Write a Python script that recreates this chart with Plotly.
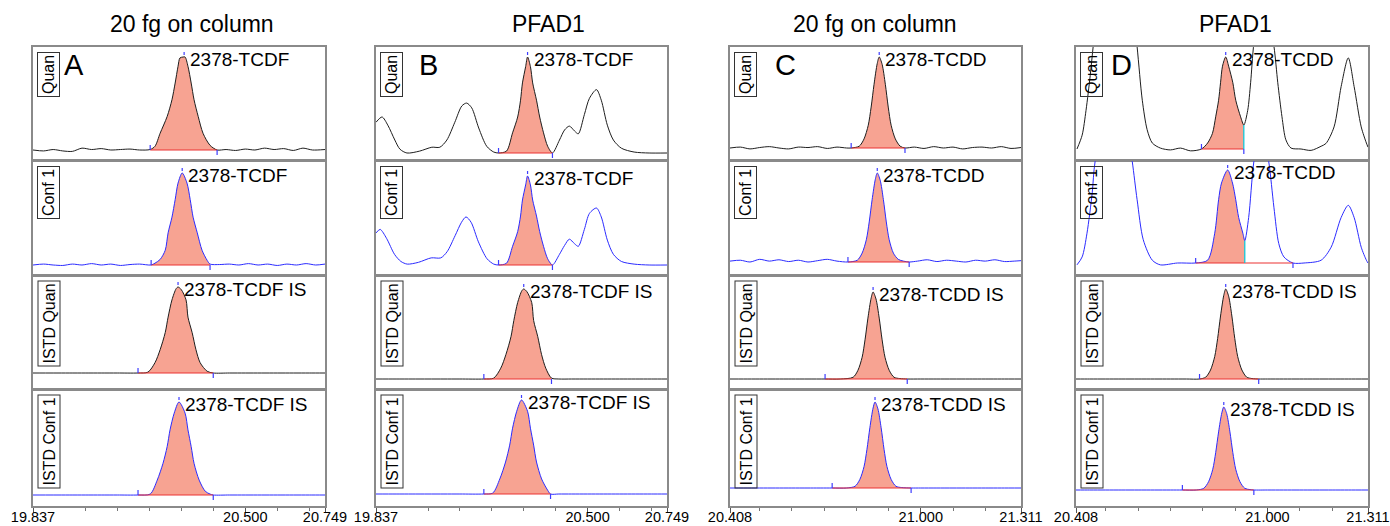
import plotly.graph_objects as go

W, H = 1390, 526
FONT = "Liberation Sans, Arial, sans-serif"

# ---------------- text ----------------
col_titles = ["20 fg on column", "PFAD1", "20 fg on column", "PFAD1"]
panel_letters = ["A", "B", "C", "D"]
row_names = ["Quan", "Conf 1", "ISTD Quan", "ISTD Conf 1"]
peak_names = [
    ["2378-TCDF", "2378-TCDF", "2378-TCDF IS", "2378-TCDF IS"],
    ["2378-TCDF", "2378-TCDF", "2378-TCDF IS", "2378-TCDF IS"],
    ["2378-TCDD", "2378-TCDD", "2378-TCDD IS", "2378-TCDD IS"],
    ["2378-TCDD", "2378-TCDD", "2378-TCDD IS", "2378-TCDD IS"],
]

# ---------------- axes ----------------
x_ranges = [[19.837, 20.749], [19.837, 20.749], [20.408, 21.311], [20.408, 21.311]]
major_ticks = [[19.837, 20.500, 20.749], [19.837, 20.500, 20.749],
               [20.408, 21.000, 21.311], [20.408, 21.000, 21.311]]
major_labels = [["19.837", "20.500", "20.749"], ["19.837", "20.500", "20.749"],
                ["20.408", "21.000", "21.311"], ["20.408", "21.000", "21.311"]]
minor_ticks_f = [20.0, 20.1, 20.2, 20.3, 20.4, 20.6, 20.7]
minor_ticks_d = [20.5, 20.6, 20.7, 20.8, 20.9, 21.1, 21.2]

# ---------------- chromatogram data (RT min, relative abundance) ----------------
# A : 20 fg TCDF
a1_x = [19.837, 19.87, 19.90, 19.93, 19.96, 19.99, 20.02, 20.05, 20.08, 20.11, 20.14, 20.17,
        20.203, 20.218, 20.234, 20.256, 20.271, 20.281, 20.290, 20.296, 20.306, 20.312, 20.321,
        20.331, 20.340, 20.353, 20.368, 20.390, 20.412, 20.44, 20.47, 20.50, 20.53, 20.56,
        20.59, 20.62, 20.65, 20.68, 20.71, 20.749]
a1_y = [0, -1, 0.5, -1, -1.5, 2, 0.5, 1.5, 0, 0.5, 1, 0,
        0.5, 4, 18, 36, 54, 72, 90, 99, 100, 100, 90,
        72, 54, 36, 18, 5, 0, 0.5, -0.5, 1, 0, 2,
        0.5, 1.5, -0.5, 2, 0, 0.5]
a2_x = [19.837, 19.87, 19.90, 19.93, 19.96, 19.99, 20.02, 20.05, 20.08, 20.11, 20.14, 20.17,
        20.206, 20.218, 20.234, 20.250, 20.259, 20.271, 20.281, 20.290, 20.303, 20.318, 20.328,
        20.337, 20.350, 20.365, 20.381, 20.390, 20.42, 20.45, 20.48, 20.51, 20.54, 20.57,
        20.60, 20.63, 20.66, 20.69, 20.72, 20.749]
a2_y = [0, 1, 0, -0.5, 1, 0, 1.5, 0, 1, -0.5, 0.5, 1,
        0, 2, 6, 16, 35, 52, 71, 89, 100, 89, 71,
        52, 35, 16, 5, 1, 0.5, 1, 0, 1.5, 0, 1,
        -0.5, 1, 0, 1.5, 0, 1]
a3_x = [19.837, 19.90, 19.95, 20.00, 20.05, 20.10, 20.165, 20.196, 20.218, 20.234, 20.250,
        20.259, 20.271, 20.284, 20.290, 20.300, 20.315, 20.321, 20.334, 20.346, 20.359, 20.381,
        20.400, 20.45, 20.50, 20.55, 20.60, 20.65, 20.70, 20.749]
a3_y = [0, 0, 0, 0, 0, 0, 0, 1, 12, 27, 47,
        65, 85, 98, 100, 97, 85, 65, 47, 27, 12, 2,
        0, 0, 0, 0, 0, 0, 0, 0]
a4_x = [19.837, 19.90, 19.95, 20.00, 20.05, 20.10, 20.165, 20.203, 20.225, 20.243, 20.256,
        20.265, 20.278, 20.293, 20.312, 20.321, 20.331, 20.340, 20.356, 20.375, 20.390,
        20.400, 20.45, 20.50, 20.55, 20.60, 20.65, 20.70, 20.749]
a4_y = [0, 0, 0, 0, 0, 0, 0, 1, 16, 34, 52,
        70, 88, 100, 88, 70, 52, 34, 16, 4, 1,
        0, 0, 0, 0, 0, 0, 0, 0]

# B : PFAD1 TCDF
b1_x = [19.837, 19.856, 19.874, 19.896, 19.912, 19.934, 19.974, 20.012, 20.037, 20.059, 20.084,
        20.106, 20.121, 20.137, 20.159, 20.184, 20.206, 20.221, 20.246, 20.265, 20.281, 20.290,
        20.296, 20.306, 20.312, 20.321, 20.328, 20.340, 20.350, 20.362, 20.375, 20.390, 20.412,
        20.428, 20.443, 20.459, 20.471, 20.490, 20.506, 20.528, 20.543, 20.562, 20.581, 20.606,
        20.646, 20.693, 20.749]
b1_y = [32, 37.5, 29, 13.5, 4, 0, 2, 6, 6, 13.5, 32,
        49, 52, 47, 26, 7, 1, 0, 2, 21, 37.5, 55,
        73, 90, 100, 90, 73, 55, 37.5, 21, 7, 0, 13.5,
        24, 28, 23, 20, 40, 57, 66, 55, 29, 13.5, 5,
        1, 0, 0]
b2_x = [19.837, 19.850, 19.870, 19.895, 19.915, 19.935, 19.97, 20.01, 20.04, 20.06, 20.085,
        20.105, 20.119, 20.135, 20.158, 20.185, 20.206, 20.221, 20.246, 20.265, 20.281, 20.290,
        20.296, 20.306, 20.312, 20.321, 20.328, 20.340, 20.350, 20.362, 20.375, 20.390, 20.412,
        20.428, 20.443, 20.459, 20.471, 20.490, 20.506, 20.528, 20.543, 20.562, 20.581, 20.606,
        20.646, 20.693, 20.749]
b2_y = [36, 40, 30, 12, 4, 1, 3, 8, 8, 15, 33,
        48, 54, 48, 26, 7, 1, 0, 2, 21, 37.5, 55,
        73, 90, 100, 90, 73, 55, 37.5, 21, 7, 0, 12,
        22, 29, 24, 21, 40, 58, 64, 54, 28, 12, 4,
        1, 0, 0]
b3_x = [19.837, 19.90, 19.95, 20.00, 20.05, 20.10, 20.175, 20.206, 20.228, 20.244, 20.260,
        20.269, 20.281, 20.294, 20.300, 20.310, 20.325, 20.331, 20.344, 20.356, 20.369, 20.387,
        20.41, 20.45, 20.50, 20.55, 20.60, 20.65, 20.70, 20.749]
b3_y = [0, 0, 0, 0, 0, 0, 0, 1, 12, 27, 47,
        65, 85, 98, 100, 97, 85, 65, 47, 27, 12, 1,
        0, 0, 0, 0, 0, 0, 0, 0]
b4_x = [19.837, 19.90, 19.95, 20.00, 20.05, 20.10, 20.175, 20.203, 20.225, 20.243, 20.256,
        20.265, 20.278, 20.293, 20.312, 20.321, 20.331, 20.340, 20.356, 20.375, 20.384,
        20.41, 20.45, 20.50, 20.55, 20.60, 20.65, 20.70, 20.749]
b4_y = [0, 0, 0, 0, 0, 0, 0, 1, 16, 34, 52,
        70, 88, 100, 88, 70, 52, 34, 16, 4, 0,
        0, 0, 0, 0, 0, 0, 0, 0]

# C : 20 fg TCDD
c1_x = [20.408, 20.44, 20.47, 20.50, 20.53, 20.56, 20.59, 20.62, 20.65, 20.68, 20.71, 20.74,
        20.77, 20.784, 20.809, 20.824, 20.837, 20.846, 20.855, 20.865, 20.871, 20.880, 20.890,
        20.899, 20.908, 20.921, 20.936, 20.951, 20.98, 21.01, 21.04, 21.07, 21.10, 21.13,
        21.16, 21.19, 21.22, 21.25, 21.28, 21.311]
c1_y = [0, 1, -1, 0.5, 1.5, 0, -1, 1, 0.5, 1.5, -0.5, 1,
        0, 0, 2, 10, 25, 45, 70, 93, 100, 92, 70,
        45, 25, 10, 2, 0, 1, -0.5, 1.5, 0, 1, -1,
        0.5, 1, 0, 1.5, -0.5, 0.5]
c2_x = [20.408, 20.44, 20.47, 20.50, 20.53, 20.56, 20.59, 20.62, 20.65, 20.68, 20.71, 20.74,
        20.774, 20.803, 20.818, 20.831, 20.840, 20.849, 20.859, 20.865, 20.874, 20.884, 20.893,
        20.902, 20.915, 20.930, 20.946, 20.964, 20.99, 21.02, 21.05, 21.08, 21.11, 21.14,
        21.17, 21.20, 21.23, 21.26, 21.29, 21.311]
c2_y = [1, 2, 0, 3, 1, 2.5, 0.5, 2, 0, 1.5, 3, 1,
        0, 2, 10, 25, 45, 70, 93, 100, 92, 70, 45,
        25, 10, 3, 1, 0, 1, 2.5, 0.5, 2, 1, 0,
        2, 1, 2.5, 0.5, 1, 1.5]
c3_x = [20.408, 20.45, 20.50, 20.55, 20.60, 20.65, 20.703, 20.75, 20.790, 20.805, 20.818,
        20.827, 20.836, 20.846, 20.852, 20.861, 20.871, 20.880, 20.889, 20.902, 20.917, 20.935,
        20.958, 21.00, 21.05, 21.10, 21.15, 21.20, 21.25, 21.311]
c3_y = [0, 0, 0, 0, 0, 0, 0, 0, 2, 10, 25,
        45, 70, 93, 100, 92, 70, 45, 25, 10, 2, 0.5,
        0, 0, 0, 0, 0, 0, 0, 0]
c4_x = [20.408, 20.45, 20.50, 20.55, 20.60, 20.65, 20.725, 20.77, 20.796, 20.811, 20.824,
        20.833, 20.842, 20.852, 20.858, 20.867, 20.877, 20.886, 20.895, 20.908, 20.923, 20.941,
        20.970, 21.00, 21.05, 21.10, 21.15, 21.20, 21.25, 21.311]
c4_y = [0, 0, 0, 0, 0, 0, 0, 0, 2, 10, 25,
        45, 70, 93, 100, 92, 70, 45, 25, 10, 2, 0.5,
        0, 0, 0, 0, 0, 0, 0, 0]

# D : PFAD1 TCDD
d1_x = [20.411, 20.427, 20.439, 20.452, 20.461, 20.483, 20.529, 20.576, 20.597, 20.613, 20.628,
        20.644, 20.669, 20.700, 20.731, 20.762, 20.796, 20.815, 20.830, 20.840, 20.849, 20.855,
        20.861, 20.871, 20.880, 20.893, 20.902, 20.917, 20.927, 20.939, 20.948, 20.958, 20.986,
        21.020, 21.032, 21.045, 21.057, 21.073, 21.104, 21.135, 21.166, 21.181, 21.206, 21.228,
        21.250, 21.268, 21.290, 21.306, 21.311]
d1_y = [0, 15, 42, 80, 111, 180, 220, 180, 111, 53, 21,
        6.5, 1, -1, 1, -2, 0, 6.5, 17, 35, 53, 72,
        90, 100, 90, 72, 53, 35, 26, 42, 72, 115, 180,
        112, 72, 35, 10, 1, 0, -1.5, 3, 6, 24, 68,
        99, 68, 24, 6.5, 2]
d2_x = [20.411, 20.427, 20.442, 20.458, 20.467, 20.514, 20.560, 20.582, 20.597, 20.616, 20.644,
        20.669, 20.722, 20.778, 20.815, 20.837, 20.849, 20.858, 20.877, 20.892, 20.902, 20.911,
        20.924, 20.930, 20.942, 20.958, 20.980, 21.004, 21.020, 21.035, 21.051, 21.079, 21.113,
        21.166, 21.197, 21.228, 21.250, 21.268, 21.290, 21.306, 21.311]
d2_y = [-2, 6.5, 32, 75, 109, 180, 160, 109, 68, 25, 3,
        -2, 0, 0, 3, 32, 68, 86, 100, 86, 68, 49,
        32, 24, 49, 109, 150, 109, 60, 21, 6.5, 0, 0,
        3, 17, 49, 62, 49, 17, 3, 0]
d3_x = [20.408, 20.45, 20.50, 20.55, 20.60, 20.65, 20.70, 20.75, 20.790, 20.809, 20.824,
        20.837, 20.846, 20.855, 20.865, 20.871, 20.880, 20.890, 20.899, 20.908, 20.921, 20.936,
        20.952, 20.973, 21.00, 21.05, 21.10, 21.15, 21.20, 21.25, 21.311]
d3_y = [0, 0, 0, 0, 0, 0, 0, 0, 0, 2, 10,
        25, 45, 70, 93, 100, 92, 70, 45, 25, 10, 2,
        0.5, 0, 0, 0, 0, 0, 0, 0, 0]
d4_x = [20.408, 20.45, 20.50, 20.55, 20.60, 20.65, 20.70, 20.737, 20.78, 20.803, 20.818,
        20.831, 20.840, 20.849, 20.859, 20.865, 20.874, 20.884, 20.893, 20.902, 20.915, 20.930,
        20.946, 20.958, 21.00, 21.05, 21.10, 21.15, 21.20, 21.25, 21.311]
d4_y = [0, 0, 0, 0, 0, 0, 0, 0, 0, 2, 10,
        25, 45, 70, 93, 100, 92, 70, 45, 25, 10, 2,
        0.5, 0, 0, 0, 0, 0, 0, 0, 0]

# integration results per column (rows Quan, Conf 1, ISTD Quan, ISTD Conf 1)
int_start = [[20.203, 20.206, 20.165, 20.165], [20.221, 20.221, 20.175, 20.175],
             [20.784, 20.774, 20.703, 20.725], [20.796, 20.778, 20.790, 20.737]]
int_end = [[20.412, 20.390, 20.400, 20.400], [20.390, 20.390, 20.387, 20.384],
           [20.951, 20.964, 20.958, 20.970], [20.927, 21.079, 20.973, 20.958]]
fill_end = [[20.412, 20.390, 20.400, 20.400], [20.390, 20.390, 20.387, 20.384],
            [20.951, 20.964, 20.958, 20.970], [20.927, 20.930, 20.973, 20.958]]
drop_line = [[None, None, None, None], [None, None, None, None],
             [None, None, None, None], [20.927, 20.930, None, None]]
apex_rt = [[20.309, 20.303, 20.290, 20.293], [20.312, 20.312, 20.300, 20.293],
           [20.871, 20.865, 20.852, 20.858], [20.871, 20.877, 20.871, 20.865]]

series = [[(a1_x, a1_y), (a2_x, a2_y), (a3_x, a3_y), (a4_x, a4_y)],
          [(b1_x, b1_y), (b2_x, b2_y), (b3_x, b3_y), (b4_x, b4_y)],
          [(c1_x, c1_y), (c2_x, c2_y), (c3_x, c3_y), (c4_x, c4_y)],
          [(d1_x, d1_y), (d2_x, d2_y), (d3_x, d3_y), (d4_x, d4_y)]]

# ---------------- layout geometry (pixels) ----------------
col_px = [(33, 325), (376, 667), (730, 1021), (1076, 1368)]
row_px = [(47, 160), (161, 275), (276, 389), (390, 506)]
base_px = [[150, 265, 373, 495], [153, 265, 379, 494], [148, 262, 379, 488], [149, 263, 379, 490]]
apex_px = [[57, 173, 287, 402], [57, 176, 289, 400], [57, 173, 292, 402], [57, 170, 289, 407]]
title_px = [(192, 24), (548, 24), (875, 24), (1235, 24)]
letter_px = [(74, 65), (428, 65), (785, 65), (1121, 65)]

LINE_COLORS = ["#1e1e1e", "#2b2bff", "#1e1e1e", "#2b2bff"]
FILL = "rgb(247,163,146)"
RED = "rgb(235,50,50)"
TICKBLUE = "rgb(60,60,255)"
BORDER = "#8a8a8a"

fig = go.Figure()
layout = dict(width=W, height=H, margin=dict(l=0, r=0, t=0, b=0),
              plot_bgcolor="white", paper_bgcolor="white", showlegend=False,
              font=dict(family=FONT, color="black"))
annotations = []

n = 0
for c in range(4):
    for r in range(4):
        n += 1
        xs, ys = series[c][r]
        xname = "x" if n == 1 else f"x{n}"
        yname = "y" if n == 1 else f"y{n}"
        top, bot = row_px[r]
        s = (base_px[c][r] - apex_px[c][r]) / 100.0
        ymin = -(bot - base_px[c][r]) / s
        ymax = 100 + (apex_px[c][r] - top) / s
        l, rr = col_px[c]
        bottom_row = (r == 3)
        xa = dict(domain=[l / W, rr / W], range=x_ranges[c], anchor=yname,
                  showline=True, linecolor=BORDER, linewidth=1.5, mirror=True,
                  showgrid=False, zeroline=False, automargin=False, fixedrange=True)
        if bottom_row:
            xa.update(tickmode="array", tickvals=major_ticks[c], ticktext=major_labels[c],
                      ticks="outside", ticklen=5, tickcolor="#555", tickwidth=1,
                      ticklabelstandoff=-8,
                      tickfont=dict(size=14.5, family=FONT, color="black"),
                      minor=dict(tickmode="array",
                                 tickvals=minor_ticks_f if c < 2 else minor_ticks_d,
                                 ticks="outside", ticklen=3, tickcolor="#777"))
        else:
            xa.update(showticklabels=False, ticks="")
        ya = dict(domain=[1 - bot / H, 1 - top / H], range=[ymin, ymax], anchor=xname,
                  showline=True, linecolor=BORDER, linewidth=1.5, mirror=True,
                  showgrid=False, zeroline=False, showticklabels=False, ticks="",
                  automargin=False, fixedrange=True)
        layout["xaxis" if n == 1 else f"xaxis{n}"] = xa
        layout["yaxis" if n == 1 else f"yaxis{n}"] = ya

        st, en, fe = int_start[c][r], int_end[c][r], fill_end[c][r]
        # filled peak area
        fx = [x for x in xs if st - 1e-9 <= x <= fe + 1e-9]
        fy = [y for x, y in zip(xs, ys) if st - 1e-9 <= x <= fe + 1e-9]
        fig.add_trace(go.Scatter(x=fx, y=fy, mode="lines", fill="tozeroy",
                                 fillcolor=FILL, line=dict(width=0, shape="spline", smoothing=0.8),
                                 xaxis=xname, yaxis=yname, hoverinfo="skip"))
        # chromatogram trace
        fig.add_trace(go.Scatter(x=xs, y=ys, mode="lines",
                                 line=dict(color=LINE_COLORS[r], width=1, shape="spline", smoothing=0.8),
                                 xaxis=xname, yaxis=yname))
        # integration baseline
        fig.add_trace(go.Scatter(x=[st, en], y=[0, 0], mode="lines",
                                 line=dict(color=RED, width=1.2),
                                 xaxis=xname, yaxis=yname, hoverinfo="skip"))
        # drop line
        if drop_line[c][r] is not None:
            dx = drop_line[c][r]
            dy = [y for x, y in zip(xs, ys) if abs(x - dx) < 1e-9][0]
            fig.add_trace(go.Scatter(x=[dx, dx], y=[0, dy], mode="lines",
                                     line=dict(color="rgb(0,200,220)", width=1.2),
                                     xaxis=xname, yaxis=yname, hoverinfo="skip"))
        # start / end / apex tick marks
        h = 5 / s
        fig.add_trace(go.Scatter(x=[st, st, None, en, en, None, apex_rt[c][r], apex_rt[c][r]],
                                 y=[0, h, None, 0, -h, None, 100 + 2 / s, 100 + 5 / s],
                                 mode="lines", line=dict(color=TICKBLUE, width=1.2),
                                 xaxis=xname, yaxis=yname, hoverinfo="skip"))
        # peak name
        annotations.append(dict(x=apex_rt[c][r], y=100, xref=xname, yref=yname,
                                text=peak_names[c][r], showarrow=False, xanchor="left",
                                yanchor="middle", xshift=4, yshift=-2,
                                font=dict(size=19, family=FONT, color="black")))
        # row label box
        annotations.append(dict(x=(l + 4) / W, y=1 - (top + 5) / H, xref="paper", yref="paper",
                                text=row_names[r], showarrow=False, textangle=-90,
                                xanchor="left", yanchor="top",
                                bordercolor="#333", borderwidth=1, borderpad=2,
                                font=dict(size=16, family=FONT, color="black")))

for c in range(4):
    tx, ty = title_px[c]
    annotations.append(dict(x=tx / W, y=1 - ty / H, xref="paper", yref="paper",
                            text=col_titles[c], showarrow=False, xanchor="center", yanchor="middle",
                            font=dict(size=23, family=FONT, color="black")))
    lx, ly = letter_px[c]
    annotations.append(dict(x=lx / W, y=1 - ly / H, xref="paper", yref="paper",
                            text=panel_letters[c], showarrow=False, xanchor="center", yanchor="middle",
                            font=dict(size=29, family=FONT, color="black")))

layout["annotations"] = annotations
fig.update_layout(**layout)
fig.write_html("out.html")
